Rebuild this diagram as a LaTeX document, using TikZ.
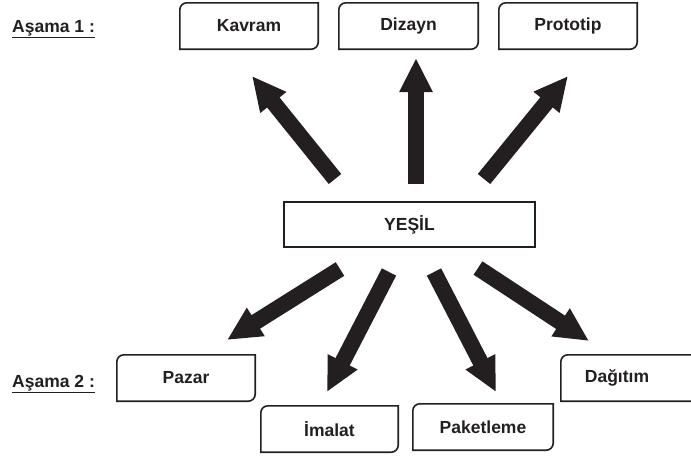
\documentclass[tikz,border=0pt]{standalone}
\usepackage{fontspec}
\setmainfont{Liberation Sans}
\usetikzlibrary{arrows.meta,calc}
\definecolor{ink}{HTML}{231F20}

\tikzset{
  x=1pt, y=1pt,
  stage/.style={draw=none, minimum width=138pt, minimum height=46pt, inner sep=0pt,
    font=\bfseries\fontsize{17.5}{20}\selectfont, text=ink},
  frame/.style={draw=ink, line width=1.6pt},
  stagelabel/.style={anchor=west, inner sep=0pt, font=\bfseries\fontsize{17.5}{20}\selectfont, text=ink},
  flow/.style={draw=ink, line width=16pt, -{Triangle[width=31pt,length=34pt]}},
}

% frame with rounded top-left and bottom-right corners around a node
\newcommand\stageframe[1]{%
  \draw[frame] ([yshift=-7pt]#1.north west) arc[start angle=180,end angle=90,radius=7pt]
    -- (#1.north east) -- ([yshift=7pt]#1.south east)
    arc[start angle=0,end angle=-90,radius=7pt] -- (#1.south west) -- cycle;}

\begin{document}
\begin{tikzpicture}
\useasboundingbox (0,0) rectangle (691,-456);
\clip (0,0) rectangle (691,-456);

% stage labels
\node[stagelabel] (s1) at (12,-29) {\underline{Aşama 1 :}};
\node[stagelabel] (s2) at (12,-384) {\underline{Aşama 2 :}};

% central node
\node[stage, minimum width=251pt, minimum height=45pt] (yesil) at (409.5,-224.5) {YEŞİL};
\draw[draw=ink, line width=1.8pt] (yesil.north west) rectangle (yesil.south east);

% stage 1 boxes
\node[stage] (kavram) at (249,-26) {Kavram};
\node[stage, minimum width=139pt] (dizayn) at (408.5,-26) {Dizayn};
\node[stage] (prototip) at (568,-26) {Prototip};

% stage 2 boxes
\node[stage] (pazar) at (186,-378) {Pazar};
\node[stage, minimum width=137pt] (imalat) at (329.5,-429) {İmalat};
\node[stage, minimum width=140pt] (paketleme) at (483,-427) {Paketleme};
\node[stage] (dagitim) at (630,-378) {\hspace*{-26pt}Dağıtım};

\foreach \n in {kavram,dizayn,prototip,pazar,imalat,paketleme,dagitim}
  \stageframe{\n};

% arrow tails and tips
\coordinate (t1) at (335,-179); \coordinate (h1) at (252,-76);
\coordinate (t2) at (416,-184); \coordinate (h2) at (416,-58);
\coordinate (t3) at (484,-179); \coordinate (h3) at (568,-76);
\coordinate (t4) at (340,-269); \coordinate (h4) at (227,-340);
\coordinate (t5) at (389,-272); \coordinate (h5) at (327,-392);
\coordinate (t6) at (434,-272); \coordinate (h6) at (496,-392);
\coordinate (t7) at (478,-268); \coordinate (h7) at (589,-341);

\foreach \i in {1,...,7}
  \draw[flow] (t\i) -- (h\i);
\end{tikzpicture}
\end{document}
